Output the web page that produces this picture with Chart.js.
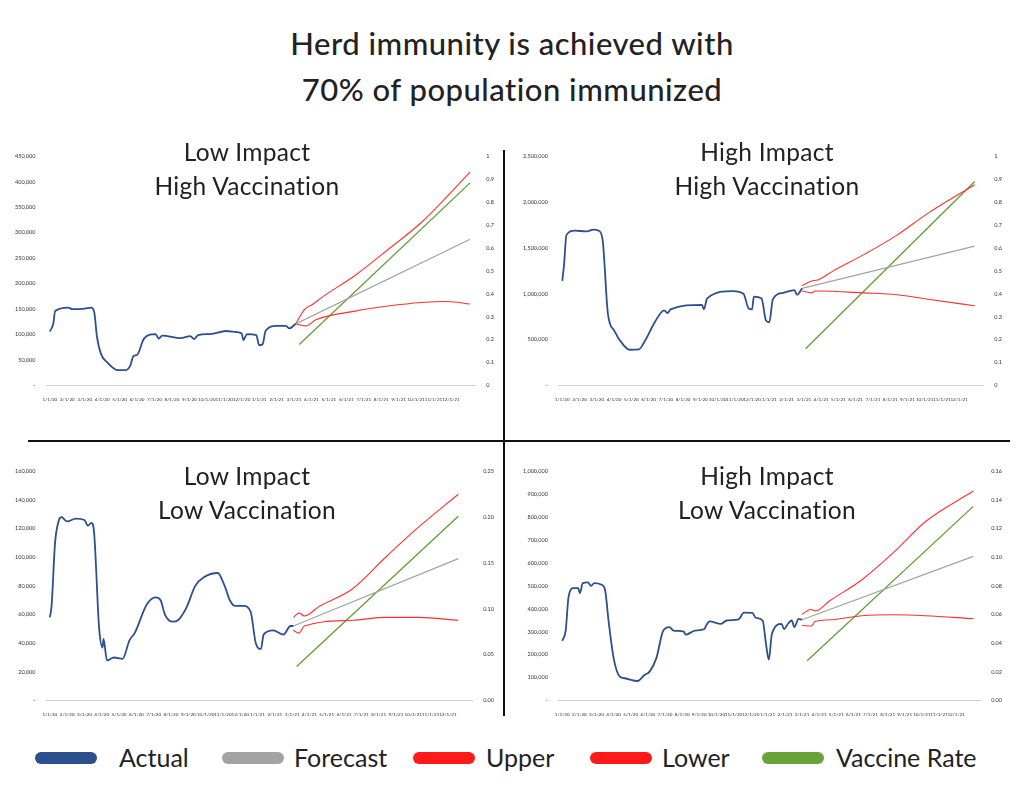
<!DOCTYPE html>
<html><head><meta charset="utf-8">
<script src="https://cdn.jsdelivr.net/npm/chart.js@4"></script>
<style>
body{margin:0;width:1024px;height:795px;background:#fff;font-family:Lato,"Open Sans",sans-serif;color:#222;position:relative;overflow:hidden}
.t{position:absolute;left:0;width:1024px;text-align:center;font-size:31px;font-weight:500;letter-spacing:0.5px}
.st{position:absolute;width:480px;text-align:center;font-size:24.5px;font-weight:400;line-height:34px;letter-spacing:0.3px}
.cw{position:absolute}
.ln{position:absolute;background:#111}
.lg{position:absolute;top:752px;height:12px;width:62px;border-radius:6px}
.lt{position:absolute;top:742px;font-size:25px;font-weight:400}
</style></head><body>
<div class="t" style="top:24px">Herd immunity is achieved with</div>
<div class="t" style="top:70px">70% of population immunized</div>
<div class="ln" style="left:503px;top:150px;width:1.5px;height:566px"></div>
<div class="ln" style="left:28px;top:440px;width:982px;height:1.5px"></div>
<div class="cw" style="left:12px;top:150px;width:485px;height:255px"><canvas id="c1"></canvas></div>
<div class="cw" style="left:520px;top:150px;width:485px;height:255px"><canvas id="c2"></canvas></div>
<div class="cw" style="left:12px;top:465px;width:485px;height:255px"><canvas id="c3"></canvas></div>
<div class="cw" style="left:520px;top:465px;width:485px;height:255px"><canvas id="c4"></canvas></div>
<div class="st" style="left:7px;top:135px">Low Impact<br>High Vaccination</div>
<div class="st" style="left:527px;top:135px">High Impact<br>High Vaccination</div>
<div class="st" style="left:7px;top:459px">Low Impact<br>Low Vaccination</div>
<div class="st" style="left:527px;top:459px">High Impact<br>Low Vaccination</div>
<div class="lg" style="left:35px;background:#2c4f8e"></div><div class="lt" style="left:119px">Actual</div>
<div class="lg" style="left:222px;background:#a3a3a3"></div><div class="lt" style="left:294px">Forecast</div>
<div class="lg" style="left:413px;background:#ff1a1a"></div><div class="lt" style="left:486px">Upper</div>
<div class="lg" style="left:590px;background:#ff1a1a"></div><div class="lt" style="left:662px">Lower</div>
<div class="lg" style="left:762px;background:#6aa33a"></div><div class="lt" style="left:836px">Vaccine Rate</div>
<script>
const tickLabels=["1/1/20","2/1/20","3/1/20","4/1/20","5/1/20","6/1/20","7/1/20","8/1/20","9/1/20","10/1/20","11/1/20","12/1/20","1/1/21","2/1/21","3/1/21","4/1/21","5/1/21","6/1/21","7/1/21","8/1/21","9/1/21","10/1/21","11/1/21","12/1/21"];

// Low Impact High Vaccination
const lihvActual=[[0,106000],[0.2,122000],[0.3,146000],[1.04,153000],[1.3,150000],[2.0,151000],[2.37,153000],[2.55,143000],[2.7,96000],[2.93,62000],[3.3,45000],[3.9,30000],[4.3,30000],[4.6,38000],[4.8,58000],[5.0,60000],[5.4,92000],[6.06,101000],[6.25,92000],[6.44,98000],[7.5,93000],[8.05,97000],[8.28,91000],[8.5,99000],[9.2,101000],[10.1,107000],[10.7,105000],[11.0,102000],[11.1,89000],[11.3,101000],[11.84,99000],[12.0,79000],[12.2,81000],[12.37,107000],[12.97,117000],[13.54,117000],[13.73,112000],[14.1,121000]];
const lihvForecast=[[14.1,121000],[24.1,287000]];
const lihvUpper=[[14.1,121000],[14.6,149000],[15.06,159000],[15.6,173000],[17.5,216000],[19.4,267000],[21.3,320000],[24.1,419000]];
const lihvLower=[[14.1,121000],[14.7,117000],[15.25,129000],[17.5,146000],[19.4,156000],[21.3,163000],[22.8,165000],[24.1,160000]];
const lihvVaccine=[[14.3,0.179],[24.1,0.884]];

// High Impact High Vaccination
const hihvActual=[[0,1140000],[0.1,1310000],[0.24,1640000],[0.73,1690000],[1.36,1680000],[1.82,1700000],[2.1,1690000],[2.33,1600000],[2.64,790000],[3.0,600000],[3.55,440000],[3.9,390000],[4.45,395000],[4.8,490000],[5.36,690000],[5.9,820000],[6.1,790000],[6.27,830000],[8.1,880000],[8.2,830000],[8.4,950000],[9.9,1030000],[10.5,1000000],[10.8,840000],[11.0,830000],[11.1,970000],[11.55,950000],[11.8,710000],[12.0,690000],[12.2,940000],[12.8,1010000],[13.45,1040000],[13.6,990000],[13.9,1060000]];
const hihvForecast=[[13.9,1060000],[23.9,1520000]];
const hihvUpper=[[13.9,1090000],[14.45,1140000],[14.8,1150000],[15.7,1250000],[17.5,1430000],[19.4,1640000],[21.2,1880000],[23.9,2190000]];
const hihvLower=[[13.9,1030000],[14.45,1010000],[14.65,1030000],[17.5,1010000],[19.4,990000],[21.2,940000],[23.9,870000]];
const hihvVaccine=[[14.1,0.16],[23.9,0.89]];

// Low Impact Low Vaccination
const lilvActual=[[0,58000],[0.1,66000],[0.3,110000],[0.5,125000],[0.67,128000],[1.0,125000],[1.5,127000],[2.0,126000],[2.2,122000],[2.4,124000],[2.55,118000],[2.85,50000],[3.05,37000],[3.1,43000],[3.3,28000],[3.7,30000],[4.2,29000],[4.6,42000],[4.9,47000],[5.6,67000],[6.1,72000],[6.4,70000],[6.65,60000],[7.1,55000],[7.4,56000],[7.9,65000],[8.4,80000],[8.9,86000],[9.7,89000],[10.1,80000],[10.4,70000],[10.7,66000],[11.2,66000],[11.6,62000],[11.9,40000],[12.2,36000],[12.35,46000],[12.9,49000],[13.5,46000],[13.9,52000],[14.07,52000]];
const lilvForecast=[[14.07,52000],[23.6,99000]];
const lilvUpper=[[14.07,58000],[14.4,61000],[14.7,59000],[15.6,66000],[17.5,78000],[19.4,100000],[21.3,121000],[23.6,144000]];
const lilvLower=[[14.07,49000],[14.4,47000],[14.7,52000],[17.5,56000],[19.4,58000],[21.3,58000],[23.6,56000]];
const lilvVaccine=[[14.26,0.037],[23.6,0.201]];

// High Impact Low Vaccination
const hilvActual=[[0,260000],[0.2,305000],[0.37,453000],[0.65,490000],[0.93,490000],[1.03,468000],[1.2,512000],[1.5,515000],[1.68,500000],[1.87,512000],[2.3,505000],[2.5,483000],[2.7,350000],[3.0,185000],[3.36,104000],[3.65,97000],[4.4,85000],[4.8,111000],[5.1,126000],[5.5,186000],[5.9,305000],[6.26,320000],[6.5,305000],[7.1,300000],[7.2,287000],[7.75,305000],[8.3,312000],[8.4,327000],[8.6,345000],[9.25,334000],[9.6,349000],[10.3,354000],[10.6,383000],[11.1,382000],[11.3,361000],[11.7,349000],[11.9,245000],[12.06,178000],[12.24,290000],[12.8,334000],[12.95,312000],[13.2,337000],[13.4,349000],[13.55,320000],[13.8,356000],[14.0,352000]];
const hilvForecast=[[14.0,352000],[24.0,629000]];
const hilvUpper=[[14.0,376000],[14.5,397000],[14.8,391000],[15.6,434000],[17.5,527000],[19.35,646000],[21.2,780000],[24.0,914000]];
const hilvLower=[[14.0,327000],[14.55,325000],[14.75,345000],[15.6,352000],[17.5,370000],[19.35,374000],[21.2,370000],[24.0,357000]];
const hilvVaccine=[[14.3,0.0278],[24.0,0.1355]];

const pts=a=>a.map(p=>({x:p[0],y:p[1]}));
function make(id,act,fc,up,lo,vac,lmax,lstep,rmax,rstep,rdec){
  const f={size:5.5,family:'Lato'};
  const fx={size:4.6,family:'Lato'};
  new Chart(document.getElementById(id),{type:'line',
    data:{datasets:[
      {data:pts(act),borderColor:'#2c4f8e',borderWidth:1.8,cubicInterpolationMode:'monotone',yAxisID:'y'},
      {data:pts(fc),borderColor:'#a3a3a3',borderWidth:1.2,yAxisID:'y'},
      {data:pts(up),borderColor:'#ff3030',borderWidth:1.1,cubicInterpolationMode:'monotone',yAxisID:'y'},
      {data:pts(lo),borderColor:'#ff3030',borderWidth:1.1,cubicInterpolationMode:'monotone',yAxisID:'y'},
      {data:pts(vac),borderColor:'#5f9e32',borderWidth:1.3,yAxisID:'y2'}]},
    options:{responsive:true,maintainAspectRatio:false,animation:false,
      elements:{point:{radius:0}},
      plugins:{legend:{display:false},tooltip:{enabled:false}},
      layout:{padding:{left:0,right:0,top:4,bottom:0}},
      scales:{
        x:{type:'linear',min:-0.2,max:24.4,grid:{display:false},border:{color:'#d0d0d0'},
          afterBuildTicks:ax=>{ax.ticks=tickLabels.map((_,i)=>({value:i}));},
          ticks:{font:fx,color:'#333',maxRotation:0,autoSkip:false,callback:v=>tickLabels[v]??''}},
        y:{min:0,max:lmax,position:'left',grid:{display:false},border:{display:false},
          ticks:{stepSize:lstep,font:f,color:'#333',callback:v=>v===0?'-':v.toLocaleString('en-US')}},
        y2:{min:0,max:rmax,position:'right',grid:{display:false},border:{display:false},
          ticks:{stepSize:rstep,font:f,color:'#333',callback:v=>rdec===1?String(+v.toFixed(1)):v.toFixed(rdec)}}
      }}});
}
make('c1',lihvActual,lihvForecast,lihvUpper,lihvLower,lihvVaccine,450000,50000,1,0.1,1);
make('c2',hihvActual,hihvForecast,hihvUpper,hihvLower,hihvVaccine,2500000,500000,1,0.1,1);
make('c3',lilvActual,lilvForecast,lilvUpper,lilvLower,lilvVaccine,160000,20000,0.25,0.05,2);
make('c4',hilvActual,hilvForecast,hilvUpper,hilvLower,hilvVaccine,1000000,100000,0.16,0.02,2);
</script></body></html>
